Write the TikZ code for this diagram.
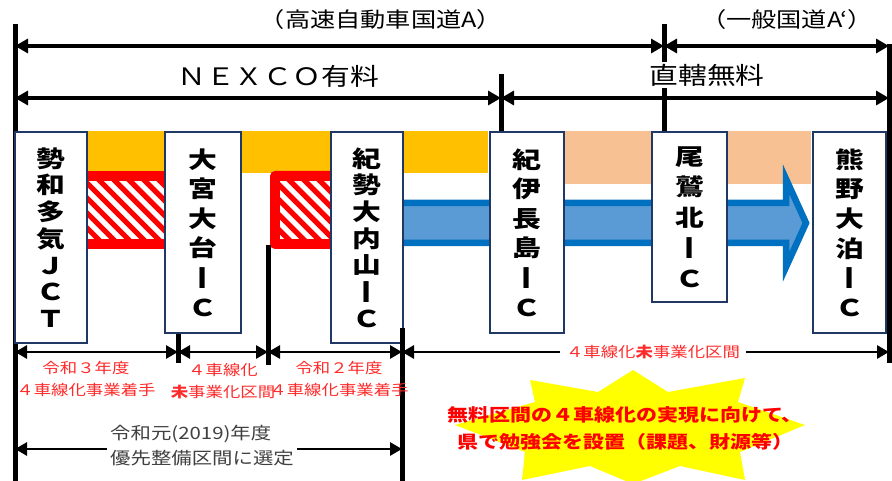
\documentclass[tikz,border=0pt]{standalone}
\usepackage{fontspec}
\usepackage{graphicx}
\setmainfont{Noto Sans CJK JP}
\newfontfamily\jp[FakeStretch=1.2]{Noto Sans CJK JP}
\newfontfamily\jpbox[FakeStretch=1.25]{Noto Sans CJK JP}
\usetikzlibrary{arrows.meta}
\definecolor{navy}{HTML}{1F3864}
\definecolor{orng}{HTML}{FFC000}
\definecolor{peach}{HTML}{F8C193}
\definecolor{bluef}{HTML}{5B9BD5}
\definecolor{blued}{HTML}{0070C0}
\definecolor{greytxt}{HTML}{404040}
\definecolor{starY}{HTML}{FFFF00}
\definecolor{lblred}{HTML}{FF2A2A}
\newcommand{\tallI}{\raisebox{-1.5pt}{\scalebox{1}[1.22]{I}}}
\begin{document}
\begin{tikzpicture}[x=1pt,y=-1pt,
  vline/.style={line width=5pt},
  dim/.style={line width=3.2pt, arrows={Triangle[length=13pt,width=14pt]-Triangle[length=13pt,width=14pt]}},
  dimb/.style={line width=2.8pt, arrows={Triangle[length=12pt,width=13pt]-Triangle[length=12pt,width=13pt]}},
  toplbl/.style={font=\jp\fontsize{21}{25}\selectfont, inner sep=2pt},
  midlbl/.style={font=\jp\fontsize{24}{28}\selectfont, fill=white, inner sep=2pt},
  redlbl/.style={font=\jp\fontsize{14.5}{22}\selectfont, text=lblred, align=center, inner sep=0pt},
  icbox/.style={draw=navy, line width=2pt, fill=white, anchor=north west, align=center, inner sep=0pt,
    font=\jpbox\bfseries\fontsize{23}{29.6}\selectfont},
  seven/.style={font=\jpbox\bfseries\fontsize{23}{26.7}\selectfont},
  five/.style={font=\jpbox\bfseries\fontsize{23}{30.5}\selectfont},
  stripe/.style={red, line width=5.3pt},
]
\fill[white] (0,0) rectangle (892,481);
\useasboundingbox (0,0) rectangle (892,481);

% coloured bands
\fill[orng] (60,131) rectangle (488,173);
\fill[peach] (564,131) rectangle (811,184);

% hatched sections
\fill[red] (60,171) rectangle (175,249);
\fill[white] (60,181) rectangle (175,239);
\begin{scope}
  \clip (60,181) rectangle (175,239);
  \foreach \k in {-6,...,12} \draw[stripe] ({60+15*\k},171) -- ++(90,90);
\end{scope}
\fill[red, rounded corners=5pt] (270,171) rectangle (345,249);
\fill[white] (280,181) rectangle (345,239);
\begin{scope}
  \clip (280,181) rectangle (345,239);
  \foreach \k in {-6,...,6} \draw[stripe] ({280+15*\k},171) -- ++(90,90);
\end{scope}

% blue arrow
\filldraw[fill=bluef, draw=blued, line width=6.5pt, line join=miter]
  (395,203) -- (786,203) -- (786,179) -- (806,223) -- (786,267) -- (786,243) -- (395,243) -- cycle;

% vertical lines
\draw[vline] (15,24) -- (15,481);
\draw[vline] (664,24) -- (664,131);
\draw[vline] (501,74) -- (501,131);
\draw[vline] (889,44) -- (889,363);
\draw[vline] (178,320) -- (178,363);
\draw[vline] (268,245) -- (268,365);

% top dimension arrows
\coordinate (t1) at (15,46);
\coordinate (t2) at (664,46);
\coordinate (t3) at (889,46);
\draw[dim] (t1) -- (t2);
\draw[dim] (t2) -- (t3);
\coordinate (s1) at (15,98);
\coordinate (s2) at (501,98);
\coordinate (s3) at (889,98);
\draw[dim] (s1) -- (s2);
\draw[dim] (s2) -- (s3);

\node[toplbl] (hwy) at (381,20) {（高速自動車国道A）};
\node[toplbl] (gen) at (787,20) {（一般国道A‘）};
\node[midlbl] (nexco) at (278,76) {ＮＥＸＣＯ有料};
\node[midlbl] (chok) at (707,75) {直轄無料};

% IC boxes
\node[icbox, seven, minimum width=72pt, minimum height=211pt] (jct) at (14,131) {勢\\和\\多\\気\\Ｊ\\Ｃ\\Ｔ};
\node[icbox, minimum width=76pt, minimum height=201pt] (ohmiya) at (164,131) {大\\宮\\大\\台\\\tallI\\Ｃ};
\node[icbox, seven, minimum width=72pt, minimum height=211pt] (kisei) at (330,131) {紀\\勢\\大\\内\\山\\\tallI\\Ｃ};
\node[icbox, minimum width=74pt, minimum height=201pt] (kinaga) at (489,131) {紀\\伊\\長\\島\\\tallI\\Ｃ};
\node[icbox, five, minimum width=75pt, minimum height=170pt] (owase) at (651,131) {尾\\鷲\\北\\\tallI\\Ｃ};
\node[icbox, minimum width=73pt, minimum height=201pt] (kumano) at (812,131) {熊\\野\\大\\泊\\\tallI\\Ｃ};

\draw[vline] (402,328) -- (402,481);

% bottom dimension arrows
\coordinate (b1) at (15,352);
\coordinate (b2) at (178,352);
\coordinate (b3) at (268,352);
\coordinate (b4) at (402,352);
\coordinate (b5) at (889,352);
\draw[dimb] (b1) -- (b2);
\draw[dimb] (b2) -- (b3);
\draw[dimb] (b3) -- (b4);
\draw[dimb] (b4) -- (b5);

\node[redlbl] (r3) at (86,379) {令和３年度\\４車線化事業着手};
\node[redlbl] (mi1) at (223,381) {４車線化\\{\bfseries 未}事業化区間};
\node[redlbl] (r2) at (339,379) {令和２年度\\４車線化事業着手};
\node[redlbl, fill=white, inner xsep=6pt, inner ysep=2pt] (mi2) at (653,352) {４車線化{\bfseries 未}事業化区間};

% priority section
\coordinate (p1) at (15,449);
\coordinate (p2) at (402,449);
\draw[dimb] (p1) -- (p2);
\node[font=\jp\fontsize{17}{25}\selectfont, text=greytxt, fill=white, align=left, inner xsep=3pt, inner ysep=1pt, anchor=west]
  (prio) at (107,445.5) {令和元(2019)年度\\優先整備区間に選定};

% explosion
\fill[starY] (633,370) -- (668,392) -- (745,378) -- (738,402) -- (805,425) -- (740,452)
  -- (745,480) -- (680,466) -- (633,484) -- (590,466) -- (522,480) -- (525,452)
  -- (455,425) -- (535,402) -- (530,380) -- (598,392) -- cycle;
\node[font=\jp\bfseries\fontsize{17.5}{27}\selectfont, text=red, align=center, inner sep=0pt]
  (study) at (625,428.5) {無料区間の４車線化の実現に向けて、\\県で勉強会を設置（課題、財源等）};
\end{tikzpicture}
\end{document}
